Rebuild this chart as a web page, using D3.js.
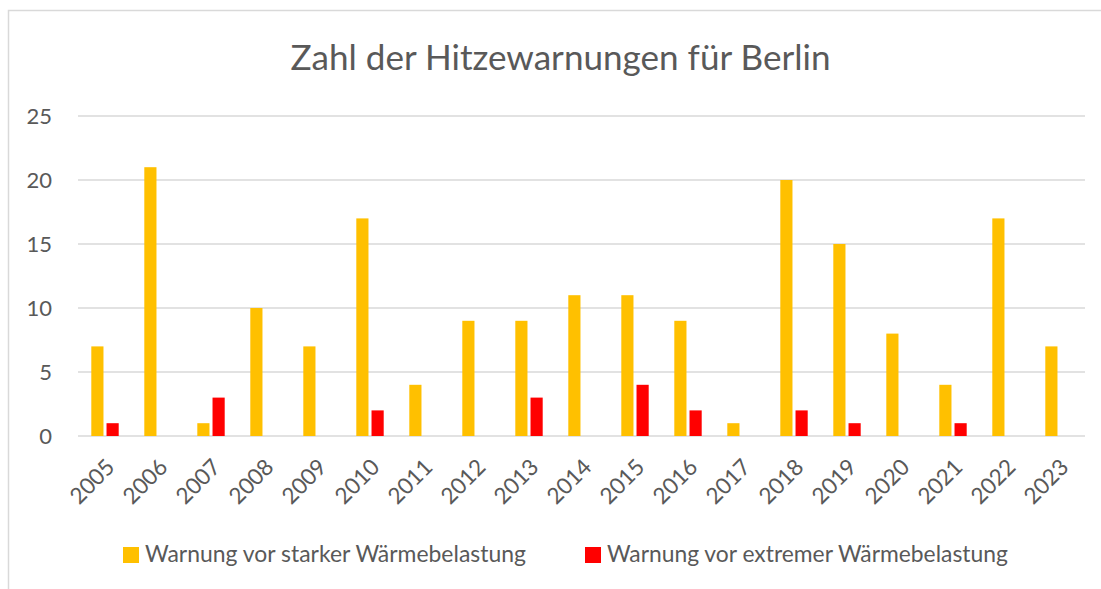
<!DOCTYPE html>
<html>
<head>
<meta charset="utf-8">
<script src="https://cdn.jsdelivr.net/npm/d3@7"></script>
<style>
  html, body { margin: 0; padding: 0; background: #fff; }
  svg { display: block; }
  text { font-family: Lato, "Noto Sans", sans-serif; fill: #595959; }
</style>
</head>
<body>
<svg id="chart" width="1101" height="589"></svg>
<script>
// Data
const years = ['2005','2006','2007','2008','2009','2010','2011','2012','2013','2014',
               '2015','2016','2017','2018','2019','2020','2021','2022','2023']
const starke  = [7, 21, 1, 10, 7, 17, 4, 9, 9, 11, 11, 9, 1, 20, 15, 8, 4, 17, 7]
const extreme = [1, 0, 3, 0, 0, 2, 0, 0, 3, 0, 4, 2, 0, 2, 1, 0, 1, 0, 0]
const yTicks = [0, 5, 10, 15, 20, 25]
const seriesNames = ['Warnung vor starker Wärmebelastung', 'Warnung vor extremer Wärmebelastung']
const seriesColors = ['#FFC000', '#FF0000']
const title = 'Zahl der Hitzewarnungen für Berlin'

const svg = d3.select('#chart')

// chart frame (runs past the right and bottom edges like the screenshot)
svg.append('rect')
    .attr('x', 8.5).attr('y', 10.5)
    .attr('width', 1120).attr('height', 620)
    .attr('fill', 'none')
    .attr('stroke', '#d9d9d9')
    .attr('stroke-width', 1.5)

const plot = {left: 78, right: 1085, top: 116, bottom: 436}

const x = d3.scaleBand()
    .domain(years)
    .range([plot.left, plot.right])

const xInner = d3.scaleBand()
    .domain([0, 1])
    .range([13.3, 40.7])
    .paddingInner(0.2)

const y = d3.scaleLinear()
    .domain([0, 25])
    .range([plot.bottom, plot.top])

// fit a text element to a target width
function fitWidth(sel, target) {
    const node = sel.node()
    const fs = parseFloat(sel.attr('font-size'))
    const w = node.getComputedTextLength()
    sel.attr('font-size', (fs * target / w).toFixed(2))
}

// gridlines
svg.append('g')
    .selectAll('line')
    .data(yTicks)
    .join('line')
    .attr('x1', plot.left).attr('x2', plot.right)
    .attr('y1', d => y(d)).attr('y2', d => y(d))
    .attr('stroke', '#d9d9d9')
    .attr('stroke-width', 1.5)

// y axis labels
const yAxis = svg.append('g')
    .attr('transform', `translate(${plot.left}, 0)`)
    .call(d3.axisLeft(y).tickValues(yTicks).tickSize(0).tickPadding(26))
yAxis.select('.domain').remove()
yAxis.selectAll('text')
    .attr('font-size', 22)
    .style('font-family', 'Lato, "Noto Sans", sans-serif')
    .attr('fill', '#595959')

// bars
const series = [starke, extreme]
series.forEach((vals, si) => {
    svg.append('g')
        .selectAll('rect')
        .data(vals)
        .join('rect')
        .attr('x', (d, i) => x(years[i]) + xInner(si))
        .attr('width', xInner.bandwidth())
        .attr('y', d => y(d))
        .attr('height', d => y(0) - y(d))
        .attr('fill', seriesColors[si])
})

// x axis labels, rotated
const xAxis = svg.append('g')
    .attr('transform', `translate(0, ${plot.bottom})`)
    .call(d3.axisBottom(x).tickSize(0).tickPadding(0))
xAxis.select('.domain').remove()
xAxis.selectAll('text')
    .attr('font-size', 22.5)
    .style('font-family', 'Lato, "Noto Sans", sans-serif')
    .attr('fill', '#595959')
    .attr('text-anchor', 'end')
    .attr('dy', '0.35em')
    .attr('transform', 'translate(6, 27) rotate(-45)')

// title
const titleText = svg.append('text')
    .attr('x', 560.5).attr('y', 70)
    .attr('text-anchor', 'middle')
    .attr('font-size', 34)
    .text(title)
fitWidth(titleText, 540)

// legend
const legendX = [123, 585]
const legendTextW = [381, 401]
const legend = svg.append('g')
seriesNames.forEach((name, i) => {
    legend.append('rect')
        .attr('x', legendX[i]).attr('y', 547)
        .attr('width', 16).attr('height', 16)
        .attr('fill', seriesColors[i])
    const t = legend.append('text')
        .attr('x', legendX[i] + 22).attr('y', 562)
        .attr('font-size', 21)
        .text(name)
    fitWidth(t, legendTextW[i])
})
</script>
</body>
</html>
